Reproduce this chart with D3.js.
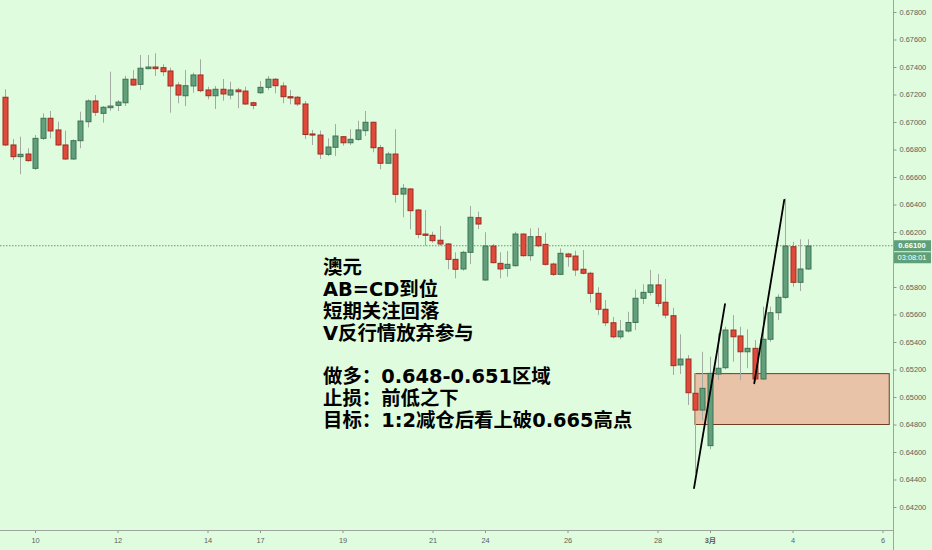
<!DOCTYPE html>
<html><head><meta charset="utf-8">
<script src="https://cdn.jsdelivr.net/npm/d3@7"></script>
<style>
html,body{margin:0;padding:0;background:#e0fcdf;}
svg{display:block;}
</style></head>
<body>
<svg id="chart" width="932" height="550"></svg>
<script>
// ---- data (AUD/USD 4H candles) ----
const openP = [.67180,.66833,.66748,.66767,.66663,.66881,.67027,.66942,.66833,.66731,.66864,.67002,.67153,.67063,.67104,.67121,.67140,.67311,.67274,.67388,.67400,.67395,.67371,.67269,.67191,.67262,.67342,.67233,.67191,.67238,.67196,.67233,.67225,.67140,.67213,.67252,.67311,.67262,.67184,.67180,.67131,.66913,.66905,.66765,.66816,.66893,.66849,.66874,.66937,.66998,.66813,.66700,.66767,.66476,.66513,.66360,.66185,.66176,.66140,.66113,.66001,.65931,.66052,.66304,.65851,.66098,.65972,.65936,.65955,.66185,.66028,.66166,.66110,.65967,.65892,.66040,.66025,.65929,.65900,.65754,.65638,.65540,.65438,.65480,.65542,.65718,.65761,.65815,.65689,.65591,.65233,.65276,.65027,.64905,.64646,.65167,.65213,.65487,.65444,.65329,.65354,.65131,.65420,.65613,.65725,.66093,.65834,.65931];
const highP = [.67238,.66876,.66893,.66809,.66905,.67063,.67080,.67002,.66937,.66874,.67075,.67165,.67196,.67116,.67366,.67160,.67335,.67378,.67487,.67487,.67500,.67420,.67395,.67289,.67378,.67359,.67456,.67257,.67262,.67313,.67293,.67249,.67257,.67148,.67298,.67335,.67318,.67289,.67233,.67189,.67153,.66942,.66937,.66881,.66985,.66898,.66947,.67009,.67080,.67002,.66833,.66784,.66947,.66549,.66518,.66367,.66360,.66202,.66244,.66118,.66052,.66064,.66389,.66348,.66198,.66113,.66052,.66062,.66202,.66190,.66227,.66231,.66195,.65977,.66081,.66049,.66064,.66069,.65911,.65798,.65705,.65582,.65560,.65620,.65782,.65820,.65924,.65895,.65858,.65649,.65456,.65305,.65172,.65329,.65293,.65463,.65511,.65596,.65511,.65492,.65415,.65657,.65657,.65747,.66445,.66129,.66147,.66147];
const lowP = [.66825,.66724,.66620,.66711,.66651,.66869,.66881,.66825,.66724,.66724,.66809,.66961,.67044,.66995,.67082,.67080,.67116,.67262,.67233,.67383,.67335,.67335,.67068,.67136,.67116,.67213,.67216,.67165,.67095,.67155,.67165,.67100,.67124,.67092,.67204,.67233,.67209,.67136,.67129,.67116,.66876,.66833,.66731,.66753,.66753,.66828,.66833,.66864,.66898,.66780,.66656,.66700,.66413,.66307,.66220,.66154,.66100,.66122,.66100,.65929,.65863,.65919,.65967,.66222,.65844,.65972,.65863,.65875,.65948,.66020,.65991,.66089,.65955,.65880,.65887,.65948,.65880,.65892,.65686,.65596,.65516,.65427,.65420,.65469,.65487,.65676,.65738,.65657,.65572,.65160,.65167,.64942,.64447,.64833,.64620,.65124,.65201,.65257,.65124,.65209,.65109,.65124,.65402,.65560,.65713,.65802,.65771,.65924];
const closeP = [.66833,.66748,.66765,.66719,.66881,.67027,.66935,.66833,.66731,.66864,.67007,.67153,.67071,.67107,.67116,.67145,.67311,.67269,.67391,.67400,.67388,.67366,.67262,.67196,.67264,.67342,.67228,.67191,.67238,.67204,.67233,.67220,.67131,.67121,.67252,.67311,.67264,.67184,.67175,.67131,.66909,.66905,.66767,.66818,.66898,.66849,.66874,.66942,.66998,.66813,.66700,.66767,.66474,.66518,.66355,.66183,.66176,.66137,.66113,.66001,.65929,.66052,.66307,.66258,.66098,.65977,.65931,.65965,.66185,.66028,.66166,.66100,.65965,.65892,.66045,.66020,.65924,.65900,.65754,.65638,.65540,.65438,.65480,.65542,.65718,.65761,.65815,.65681,.65596,.65228,.65276,.65031,.64905,.65063,.65172,.65209,.65487,.65438,.65329,.65354,.65131,.65420,.65613,.65725,.66098,.65834,.65931,.66098];

// 0.66000 is hidden behind the countdown box in the reference
const yTickValues = [0.678,0.676,0.674,0.672,0.670,0.668,0.666,0.664,0.662,0.658,0.656,0.654,0.652,0.650,0.648,0.646,0.644,0.642];
const xTickIndex = [4,15,27,34,45,57,64,75,87,94,105,117];
const xTickLabels = ["10","12","14","17","19","21","24","26","28","3月","4","6"];

const lastPrice = 0.661;
const lastPriceLabel = "0.66100";
const timerLabel = "03:08:01";

// zone [startIndex, endIndex, lowPrice, highPrice]
const zone = [92, 117.9, 0.648, 0.6517];
// trend lines [i1, p1, i2, p2]
const trendLines = [[91.87, 0.64338, 96, 0.65676], [99.9, 0.65100, 103.9, 0.66433]];

const noteLines = ["澳元","AB=CD到位","短期关注回落","V反行情放弃参与","","做多：0.648-0.651区域","止损：前低之下","目标：1:2减仓后看上破0.665高点"];

// ---- drawing ----
const W = 932, H = 550;
const axisX = 893.5, axisY = 530.5;
const svg = d3.select("#chart");
svg.append("rect").attr("width",W).attr("height",H).attr("fill","#e0fcdf");

const x = d3.scaleLinear().domain([0,117]).range([5,882.5]);
const y = d3.scaleLinear().domain([0.642,0.678]).range([507,12]);

const candles = openP.map((o,i)=>({i, o, h:highP[i], l:lowP[i], c:closeP[i]}));

// zone rectangle
svg.append("rect")
  .attr("x", x(zone[0])).attr("y", y(zone[3]))
  .attr("width", x(zone[1]) - x(zone[0]))
  .attr("height", y(zone[2]) - y(zone[3]))
  .attr("fill","#e8c3a7").attr("stroke","#6e3f25").attr("stroke-width",1);

// last price dotted line
svg.append("line")
  .attr("x1",0).attr("x2",axisX).attr("y1",y(lastPrice)).attr("y2",y(lastPrice))
  .attr("stroke","#5e9d78").attr("stroke-width",1).attr("stroke-dasharray","1.5,1.5");

const g = svg.append("g");
// wicks
g.selectAll("line.wick").data(candles).join("line").attr("class","wick")
  .attr("x1",d=>Math.round(x(d.i))+0.5).attr("x2",d=>Math.round(x(d.i))+0.5)
  .attr("y1",d=>y(d.h)).attr("y2",d=>y(d.l))
  .attr("stroke","#a2aaa2").attr("stroke-width",1);
// bodies
g.selectAll("rect.body").data(candles).join("rect").attr("class","body")
  .attr("x",d=>Math.round(x(d.i))-2)
  .attr("width",5)
  .attr("y",d=>y(Math.max(d.o,d.c)))
  .attr("height",d=>Math.max(1, y(Math.min(d.o,d.c)) - y(Math.max(d.o,d.c))))
  .attr("fill",d=>d.c>=d.o ? "#62a07b" : "#e04a3b")
  .attr("stroke",d=>d.c>=d.o ? "#3f7254" : "#9c2d21")
  .attr("stroke-width",1);

// trend lines
svg.selectAll("line.trend").data(trendLines).join("line").attr("class","trend")
  .attr("x1",d=>x(d[0])).attr("y1",d=>y(d[1]))
  .attr("x2",d=>x(d[2])).attr("y2",d=>y(d[3]))
  .attr("stroke","#000").attr("stroke-width",1.8).attr("stroke-linecap","round");

// annotation text
const txt = svg.append("text")
  .attr("font-family","'DejaVu Sans','Noto Sans CJK SC',sans-serif")
  .attr("font-weight","bold").attr("font-size",19.4).attr("fill","#000");
noteLines.forEach((t,k)=>{
  if(!t) return;
  txt.append("tspan").attr("x",323).attr("y",273.8 + 21.9*k).text(t);
});

// right axis
svg.append("line").attr("x1",axisX).attr("x2",axisX).attr("y1",0).attr("y2",H)
  .attr("stroke","#9ea59e").attr("stroke-width",1);
const yAxis = d3.axisRight(y).tickValues(yTickValues).tickSize(3).tickPadding(3)
  .tickFormat(d3.format(".5f"));
const ya = svg.append("g").attr("transform",`translate(${axisX},0)`).call(yAxis);
ya.select(".domain").remove();
ya.selectAll(".tick line").attr("stroke","#8f968f");
ya.selectAll(".tick text").attr("fill","#5b5f5b").attr("font-size",7.4)
  .attr("font-family","'Liberation Sans',Arial,sans-serif");

// bottom axis
svg.append("line").attr("x1",0).attr("x2",axisX).attr("y1",axisY).attr("y2",axisY)
  .attr("stroke","#9ea59e").attr("stroke-width",1);
const xAxis = d3.axisBottom(x).tickValues(xTickIndex).tickSize(2.5).tickPadding(5)
  .tickFormat((d,i)=>xTickLabels[i]);
const xa = svg.append("g").attr("transform",`translate(0,${axisY})`).call(xAxis);
xa.select(".domain").remove();
xa.selectAll(".tick line").attr("stroke","#8f968f");
xa.selectAll(".tick text").attr("fill","#5b5f5b").attr("font-size",7.4)
  .attr("font-family","'Liberation Sans','Noto Sans CJK SC',sans-serif")
  .attr("font-weight",(d,i)=>xTickLabels[i].includes("月")?"bold":"normal");

// last price + timer boxes
const ly = y(lastPrice);
svg.append("rect").attr("x",axisX+0.5).attr("y",ly-5.5).attr("width",W-axisX-1.5).attr("height",11)
  .attr("fill","#5f9f79");
svg.append("text").attr("x",912).attr("y",ly+2.6).attr("text-anchor","middle")
  .attr("fill","#fff").attr("font-size",7.6).attr("font-weight","bold")
  .attr("font-family","'Liberation Sans',Arial,sans-serif").text(lastPriceLabel);
svg.append("rect").attr("x",axisX+0.5).attr("y",ly+6.5).attr("width",W-axisX-1.5).attr("height",11)
  .attr("fill","#5f9f79");
svg.append("text").attr("x",912).attr("y",ly+14.6).attr("text-anchor","middle")
  .attr("fill","#fff").attr("font-size",7.4)
  .attr("font-family","'Liberation Sans',Arial,sans-serif").text(timerLabel);
</script>
</body></html>
